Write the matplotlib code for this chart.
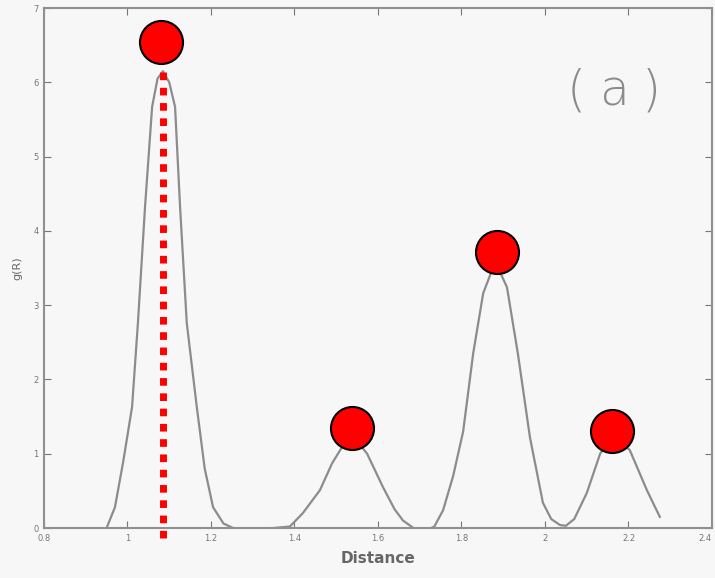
import numpy as np
import matplotlib
matplotlib.use("Agg")
import matplotlib.pyplot as plt

# g(R) curve
dist = [0.95, 0.97, 0.99, 1.011, 1.025, 1.042, 1.059, 1.072, 1.085, 1.100,
        1.114, 1.126, 1.142, 1.166, 1.185, 1.205, 1.230, 1.253, 1.30, 1.35,
        1.389, 1.42, 1.461, 1.49, 1.515, 1.538, 1.557, 1.574, 1.612, 1.64,
        1.66, 1.685, 1.708, 1.735, 1.756, 1.78, 1.804, 1.828, 1.852, 1.875,
        1.892, 1.909, 1.935, 1.964, 1.995, 2.015, 2.036, 2.05, 2.07, 2.10,
        2.132, 2.15, 2.168, 2.185, 2.203, 2.244, 2.275]
gr = [0.0, 0.28, 0.9, 1.63, 2.76, 4.32, 5.67, 6.05, 6.15, 6.0,
      5.67, 4.32, 2.76, 1.63, 0.8, 0.28, 0.06, 0.0, -0.01, 0.0,
      0.02, 0.2, 0.51, 0.87, 1.1, 1.18, 1.12, 1.0, 0.55, 0.25,
      0.1, 0.0, -0.05, 0.02, 0.24, 0.7, 1.3, 2.35, 3.16, 3.5,
      3.45, 3.24, 2.35, 1.22, 0.34, 0.12, 0.04, 0.03, 0.12, 0.47,
      1.0, 1.14, 1.18, 1.14, 1.05, 0.51, 0.15]

# red markers on the peaks
peak_x = [1.08, 1.538, 1.884, 2.16]
peak_y = [6.54, 1.34, 3.71, 1.30]

# dotted line under the first peak
vline_x = 1.085
vline_y = [-0.13, 6.2]

xticks = [0.8, 1, 1.2, 1.4, 1.6, 1.8, 2, 2.2, 2.4]
xticklabels = ["0.8", "1", "1.2", "1.4", "1.6", "1.8", "2", "2.2", "2.4"]
yticks = [0, 1, 2, 3, 4, 5, 6, 7]

fig = plt.figure(figsize=(7.15, 5.78), dpi=100, facecolor="#f7f7f7")
ax = fig.add_axes([0.0615, 0.0865, 0.9343, 0.8995])
ax.set_facecolor("#f7f7f7")

ax.plot(dist, gr, color="#8c8c8c", lw=1.6, zorder=2)
ax.plot([vline_x, vline_x], vline_y, color="red", lw=5, ls=(0, (1.1, 1.1)),
        solid_capstyle="butt", dash_capstyle="butt", zorder=3, clip_on=False)
ax.plot(peak_x, peak_y, "o", ms=31, mfc="red", mec="black", mew=1.5,
        zorder=4, clip_on=False)

# hand-written panel tag, letters spaced out like the scan
for ch, xx in zip(["(", "a", ")"], [2.074, 2.168, 2.254]):
    ax.text(xx, 5.88, ch, fontsize=35, color="#8a8a8a", fontweight="light",
            va="center", ha="center")

ax.set_xlim(0.8, 2.4)
ax.set_ylim(0, 7)
ax.set_xticks(xticks)
ax.set_xticklabels(xticklabels)
ax.get_xticklabels()[-1].set_ha("right")  # keep the last label inside the figure
ax.set_yticks(yticks)
ax.tick_params(direction="in", top=True, right=True, length=5,
               labelsize=6, colors="#777777", pad=4)
for s in ax.spines.values():
    s.set_color("#909090")
    s.set_linewidth(1.5)

ax.set_xlabel("Distance", fontsize=11, color="#666666", fontweight="bold", labelpad=6)
ax.set_ylabel("g(R)", fontsize=8, color="#666666", labelpad=8)

plt.savefig("out.png", dpi=100, facecolor=fig.get_facecolor())
